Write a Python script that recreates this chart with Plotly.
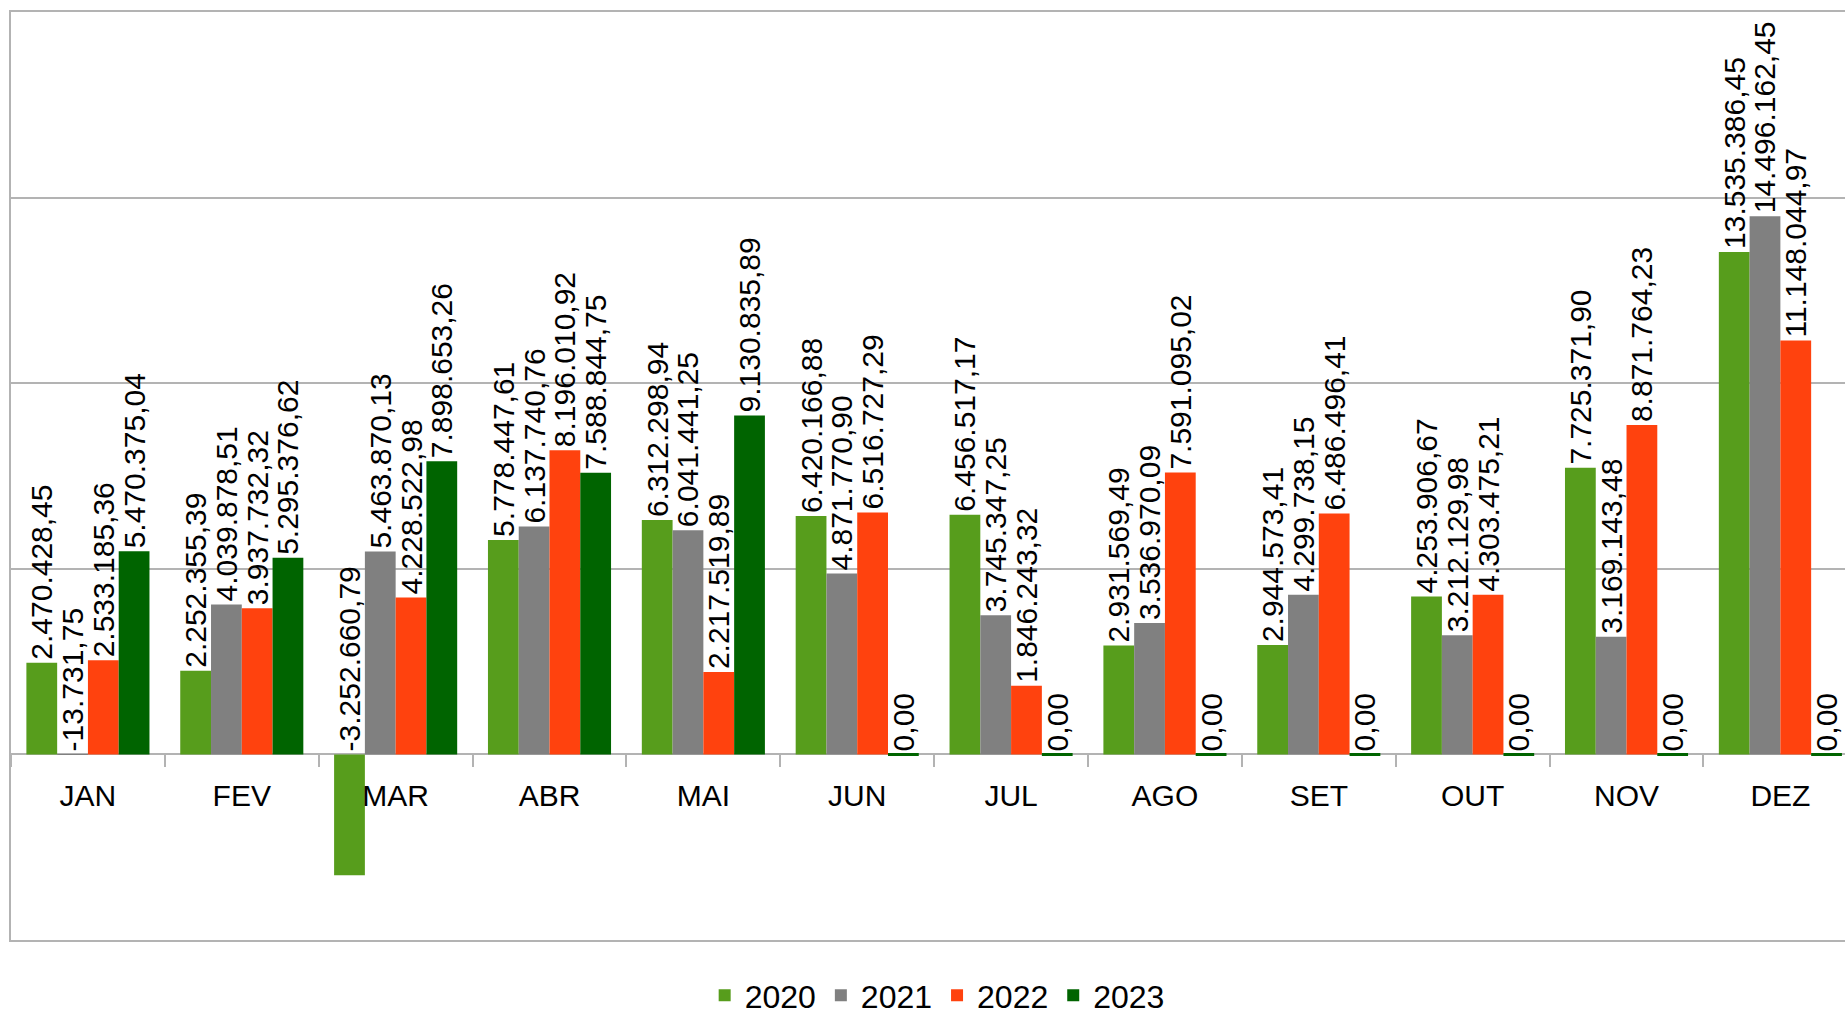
import plotly.graph_objects as go

months = ["JAN", "FEV", "MAR", "ABR", "MAI", "JUN", "JUL", "AGO", "SET", "OUT", "NOV", "DEZ"]
years = ["2020", "2021", "2022", "2023"]

v2020 = [2470428.45, 2252355.39, -3252660.79, 5778447.61, 6312298.94, 6420166.88,
         6456517.17, 2931569.49, 2944573.41, 4253906.67, 7725371.90, 13535386.45]
v2021 = [-13731.75, 4039878.51, 5463870.13, 6137740.76, 6041441.25, 4871770.90,
         3745347.25, 3536970.09, 4299738.15, 3212129.98, 3169143.48, 14496162.45]
v2022 = [2533185.36, 3937732.32, 4228522.98, 8196010.92, 2217519.89, 6516727.29,
         1846243.32, 7591095.02, 6486496.41, 4303475.21, 8871764.23, 11148044.97]
v2023 = [5470375.04, 5295376.62, 7898653.26, 7588844.75, 9130835.89, 0.00,
         0.00, 0.00, 0.00, 0.00, 0.00, 0.00]

series = [v2020, v2021, v2022, v2023]
colors = ["#579D1C", "#808080", "#FF420E", "#006400"]

FONT = "Liberation Sans, Arial, sans-serif"
GRID = "#b3b3b3"


def br(v):
    s = f"{v:,.2f}"
    return s.replace(",", "X").replace(".", ",").replace("X", ".")


fig = go.Figure()
for name, vals, col in zip(years, series, colors):
    fig.add_trace(go.Bar(
        x=months, y=vals, name=name, offsetgroup=name,
        marker=dict(color=col,
                    line=dict(color=col, width=[3 if v == 0 else 0 for v in vals])),
        hoverinfo="skip",
    ))
    # label layer: labels always start at the bar top or at zero
    fig.add_trace(go.Bar(
        x=months, y=[max(v, 0) for v in vals], offsetgroup=name,
        marker=dict(color="rgba(0,0,0,0)", line=dict(width=0)),
        text=[br(v) for v in vals], textposition="outside", textangle=-90,
        constraintext="none", cliponaxis=False,
        textfont=dict(family=FONT, size=30, color="#000000"),
        showlegend=False, hoverinfo="skip",
    ))

# empty trace so that the frame axis (top / bottom border) is drawn
fig.add_trace(go.Scatter(x=[], y=[], xaxis="x2", yaxis="y", showlegend=False,
                         hoverinfo="skip"))

fig.update_layout(
    width=1845, height=1020,
    margin=dict(l=11, r=0, t=12, b=80, autoexpand=False),
    barmode="group", bargap=0.2, bargroupgap=0,
    plot_bgcolor="white", paper_bgcolor="white",
    font=dict(family=FONT, color="#000000"),
    showlegend=True,
    legend=dict(orientation="h", x=0.505, xanchor="center",
                yref="container", y=0.024, yanchor="middle",
                font=dict(size=32, family=FONT), itemclick=False),
    xaxis=dict(
        range=[-0.5, 11.42], anchor="free", position=0.2,
        showline=False,
        ticks="outside", tickson="boundaries", ticklen=12, tickcolor=GRID, tickwidth=2,
        tickfont=dict(size=30, family=FONT), ticklabelstandoff=21,
        showgrid=False, zeroline=False,
    ),
    xaxis2=dict(
        overlaying="x", anchor="y", side="bottom", range=[0, 1],
        showline=True, mirror=True, linecolor=GRID, linewidth=2,
        showticklabels=False, ticks="", showgrid=False, zeroline=False,
    ),
    yaxis=dict(
        range=[-5e6, 20e6], dtick=5e6, showticklabels=False,
        showgrid=True, gridcolor=GRID, gridwidth=2,
        showline=True, linecolor=GRID, linewidth=2,
        zeroline=True, zerolinecolor=GRID, zerolinewidth=2, ticks="",
    ),
)

fig.write_html("out.html", config={"displayModeBar": False},
               post_script="document.body.style.margin='0';document.body.style.overflow='hidden';")
